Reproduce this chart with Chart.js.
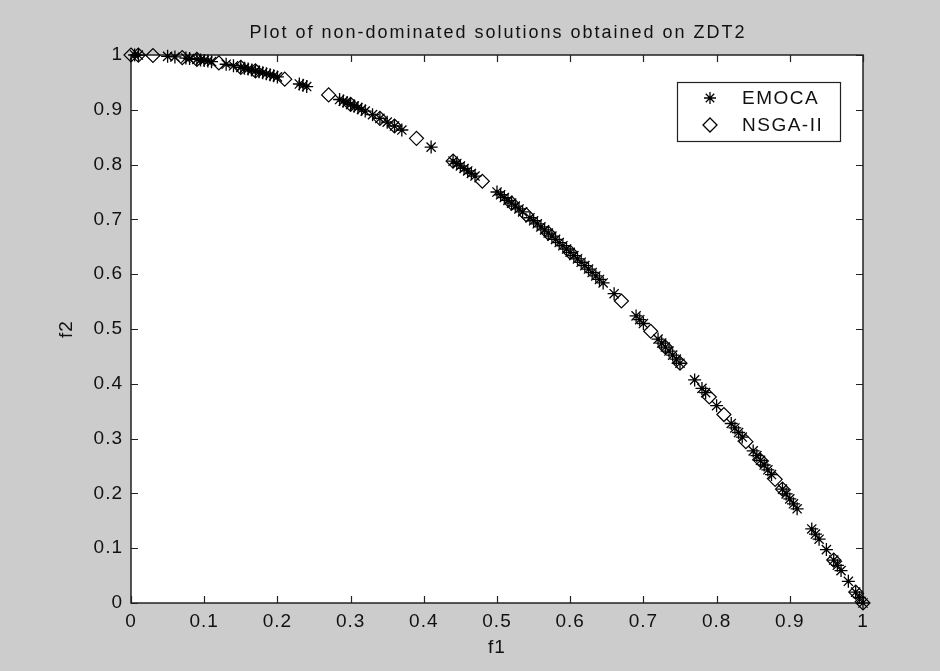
<!DOCTYPE html>
<html>
<head>
<meta charset="utf-8">
<script src="https://cdn.jsdelivr.net/npm/chart.js@4.4.1/dist/chart.umd.min.js"></script>
<style>
html,body{margin:0;padding:0;background:#cccccc;}
#c{display:block;}
</style>
</head>
<body>
<canvas id="c" width="940" height="671"></canvas>
<script>
const titleText = "Plot of non-dominated solutions obtained on ZDT2";
const xLabel = "f1";
const yLabel = "f2";
const seriesNames = ["EMOCA", "NSGA-II"];
const tickValues = [0, 0.1, 0.2, 0.3, 0.4, 0.5, 0.6, 0.7, 0.8, 0.9, 1];

const emocaF1 = [0.005, 0.01, 0.05, 0.06, 0.075, 0.08, 0.09, 0.095, 0.10, 0.105, 0.11, 0.13, 0.14, 0.15, 0.155, 0.16, 0.165, 0.17, 0.175, 0.18, 0.185, 0.19, 0.195, 0.20, 0.23, 0.235, 0.24, 0.285, 0.29, 0.295, 0.30, 0.305, 0.31, 0.315, 0.32, 0.33, 0.34, 0.35, 0.36, 0.37, 0.41, 0.44, 0.445, 0.45, 0.455, 0.46, 0.465, 0.47, 0.50, 0.505, 0.51, 0.515, 0.52, 0.525, 0.53, 0.535, 0.545, 0.55, 0.555, 0.56, 0.565, 0.57, 0.575, 0.58, 0.585, 0.59, 0.595, 0.60, 0.605, 0.61, 0.615, 0.62, 0.625, 0.63, 0.635, 0.64, 0.645, 0.66, 0.69, 0.695, 0.70, 0.72, 0.725, 0.73, 0.735, 0.74, 0.745, 0.75, 0.77, 0.78, 0.785, 0.80, 0.82, 0.825, 0.83, 0.835, 0.85, 0.855, 0.86, 0.865, 0.87, 0.875, 0.89, 0.895, 0.90, 0.905, 0.91, 0.93, 0.935, 0.94, 0.95, 0.96, 0.965, 0.97, 0.98, 0.99, 0.995, 1.0];
const emocaF2 = [1.000, 0.9999, 0.9975, 0.9964, 0.9944, 0.9936, 0.9919, 0.9910, 0.99, 0.9890, 0.9879, 0.9831, 0.9804, 0.9775, 0.9760, 0.9744, 0.9728, 0.9711, 0.9694, 0.9676, 0.9658, 0.9639, 0.9620, 0.96, 0.9471, 0.9448, 0.9424, 0.9188, 0.9159, 0.913, 0.91, 0.9070, 0.9039, 0.9008, 0.8976, 0.8911, 0.8844, 0.8775, 0.8704, 0.8631, 0.8319, 0.8064, 0.8020, 0.7975, 0.7930, 0.7884, 0.7838, 0.7791, 0.75, 0.7450, 0.7399, 0.7348, 0.7296, 0.7244, 0.7191, 0.7138, 0.7030, 0.6975, 0.6920, 0.6864, 0.6808, 0.6751, 0.6694, 0.6636, 0.6578, 0.6519, 0.6460, 0.64, 0.6340, 0.6279, 0.6218, 0.6156, 0.6094, 0.6031, 0.5968, 0.5904, 0.5840, 0.5644, 0.5239, 0.5170, 0.51, 0.4816, 0.4744, 0.4671, 0.4598, 0.4524, 0.4450, 0.4375, 0.4071, 0.3916, 0.3838, 0.36, 0.3276, 0.3194, 0.3111, 0.3028, 0.2775, 0.2690, 0.2604, 0.2518, 0.2431, 0.2344, 0.2079, 0.1990, 0.19, 0.1810, 0.1719, 0.1351, 0.1258, 0.1164, 0.0975, 0.0784, 0.0688, 0.0591, 0.0396, 0.0199, 0.01, 0.0];

const nsgaF1 = [0.0, 0.01, 0.03, 0.07, 0.09, 0.12, 0.15, 0.17, 0.21, 0.27, 0.30, 0.34, 0.36, 0.39, 0.44, 0.48, 0.52, 0.54, 0.57, 0.60, 0.67, 0.71, 0.73, 0.75, 0.79, 0.81, 0.84, 0.86, 0.88, 0.89, 0.96, 0.99, 1.0];
const nsgaF2 = [1.0, 0.9999, 0.9991, 0.9951, 0.9919, 0.9856, 0.9775, 0.9711, 0.9559, 0.9271, 0.91, 0.8844, 0.8704, 0.8479, 0.8064, 0.7696, 0.7296, 0.7084, 0.6751, 0.64, 0.5511, 0.4959, 0.4671, 0.4375, 0.3759, 0.3439, 0.2944, 0.2604, 0.2256, 0.2079, 0.0784, 0.0199, 0.0];

const toPts = (xs, ys) => xs.map((x, i) => ({x: x, y: ys[i]}));

const FONT = "Arial, 'Liberation Sans', Helvetica, sans-serif";
const INK = "#111111";

function drawMarker(ctx, style, x, y, r) {
  ctx.beginPath();
  if (style === 'star') {
    for (let k = 0; k < 4; k++) {
      const a = k * Math.PI / 4;
      ctx.moveTo(x - Math.cos(a) * r, y - Math.sin(a) * r);
      ctx.lineTo(x + Math.cos(a) * r, y + Math.sin(a) * r);
    }
  } else {
    ctx.moveTo(x, y - r);
    ctx.lineTo(x + r, y);
    ctx.lineTo(x, y + r);
    ctx.lineTo(x - r, y);
    ctx.closePath();
  }
  ctx.stroke();
}

const matlabPlugin = {
  id: 'matlab',
  beforeDraw(chart) {
    const ctx = chart.ctx, a = chart.chartArea;
    ctx.save();
    ctx.fillStyle = '#cccccc';
    ctx.fillRect(0, 0, chart.width, chart.height);
    ctx.fillStyle = '#ffffff';
    ctx.fillRect(a.left, a.top, a.right - a.left, a.bottom - a.top);
    ctx.restore();
    ctx.letterSpacing = '1px';
  },
  beforeDatasetsDraw(chart) {
    const ctx = chart.ctx, a = chart.chartArea;
    const xs = chart.scales.x, ys = chart.scales.y;
    const tl = 7;
    ctx.save();
    ctx.strokeStyle = '#222222';
    ctx.lineWidth = 1.5;
    ctx.strokeRect(a.left, a.top, a.right - a.left, a.bottom - a.top);
    ctx.beginPath();
    tickValues.forEach(v => {
      const px = Math.round(xs.getPixelForValue(v)) + 0.5;
      ctx.moveTo(px, a.bottom); ctx.lineTo(px, a.bottom - tl);
      ctx.moveTo(px, a.top); ctx.lineTo(px, a.top + tl);
      const py = Math.round(ys.getPixelForValue(v)) + 0.5;
      ctx.moveTo(a.left, py); ctx.lineTo(a.left + tl, py);
      ctx.moveTo(a.right, py); ctx.lineTo(a.right - tl, py);
    });
    ctx.lineWidth = 1.2;
    ctx.stroke();
    ctx.restore();
  },
  afterDraw(chart) {
    const ctx = chart.ctx, a = chart.chartArea;
    const cx = (a.left + a.right) / 2;
    ctx.save();
    ctx.fillStyle = INK;
    ctx.textAlign = 'center';
    ctx.textBaseline = 'middle';
    ctx.font = "18px " + FONT;
    ctx.letterSpacing = '2px';
    ctx.fillText(titleText, cx + 1, 33);
    ctx.letterSpacing = '1px';
    ctx.font = "19px " + FONT;
    ctx.fillText(xLabel, cx, 648);
    ctx.save();
    ctx.translate(67, (a.top + a.bottom) / 2);
    ctx.rotate(-Math.PI / 2);
    ctx.fillText(yLabel, 0, 0);
    ctx.restore();
    // legend
    const lx = 677, ly = 82, lw = 163, lh = 59;
    ctx.fillStyle = '#ffffff';
    ctx.fillRect(lx, ly, lw, lh);
    ctx.strokeStyle = '#222222';
    ctx.lineWidth = 1.2;
    ctx.strokeRect(lx + 0.5, ly + 0.5, lw, lh);
    ctx.fillStyle = INK;
    ctx.textAlign = 'left';
    ctx.font = "19px " + FONT;
    ctx.letterSpacing = '1.5px';
    ctx.strokeStyle = '#000000';
    ctx.lineWidth = 1.3;
    drawMarker(ctx, 'star', 710, 98, 6);
    ctx.fillText(seriesNames[0], 742, 99);
    drawMarker(ctx, 'diamond', 710, 125, 7);
    ctx.fillText(seriesNames[1], 742, 126);
    ctx.restore();
    ctx.letterSpacing = '0px';
  }
};

const tickFont = {family: FONT, size: 19};

new Chart(document.getElementById('c'), {
  type: 'scatter',
  data: {
    datasets: [
      {
        label: seriesNames[1],
        data: toPts(nsgaF1, nsgaF2),
        pointStyle: 'rectRot',
        pointRadius: 7,
        pointHoverRadius: 7,
        borderColor: '#000000',
        backgroundColor: 'rgba(0,0,0,0)',
        borderWidth: 1.2,
        clip: false
      },
      {
        label: seriesNames[0],
        data: toPts(emocaF1, emocaF2),
        pointStyle: 'star',
        pointRadius: 6.5,
        pointHoverRadius: 6.5,
        borderColor: '#000000',
        backgroundColor: '#000000',
        borderWidth: 1.3,
        clip: false
      }
    ]
  },
  options: {
    responsive: false,
    animation: false,
    devicePixelRatio: 1,
    events: [],
    layout: {padding: {left: 0, top: 55, right: 77, bottom: 0}},
    plugins: {
      legend: {display: false},
      title: {display: false},
      tooltip: {enabled: false}
    },
    scales: {
      x: {
        type: 'linear',
        min: 0, max: 1,
        afterFit(s) { s.height = 68; },
        afterBuildTicks(s) { s.ticks = tickValues.map(v => ({value: v})); },
        grid: {display: false, drawTicks: false},
        border: {display: false},
        ticks: {
          color: INK, font: tickFont, padding: 7, maxRotation: 0, autoSkip: false,
          callback: v => String(+v.toFixed(1))
        }
      },
      y: {
        type: 'linear',
        min: 0, max: 1,
        afterFit(s) { s.width = 131; },
        afterBuildTicks(s) { s.ticks = tickValues.map(v => ({value: v})); },
        grid: {display: false, drawTicks: false},
        border: {display: false},
        ticks: {
          color: INK, font: tickFont, padding: 8, autoSkip: false,
          callback: v => String(+v.toFixed(1))
        }
      }
    }
  },
  plugins: [matlabPlugin]
});
</script>
</body>
</html>
